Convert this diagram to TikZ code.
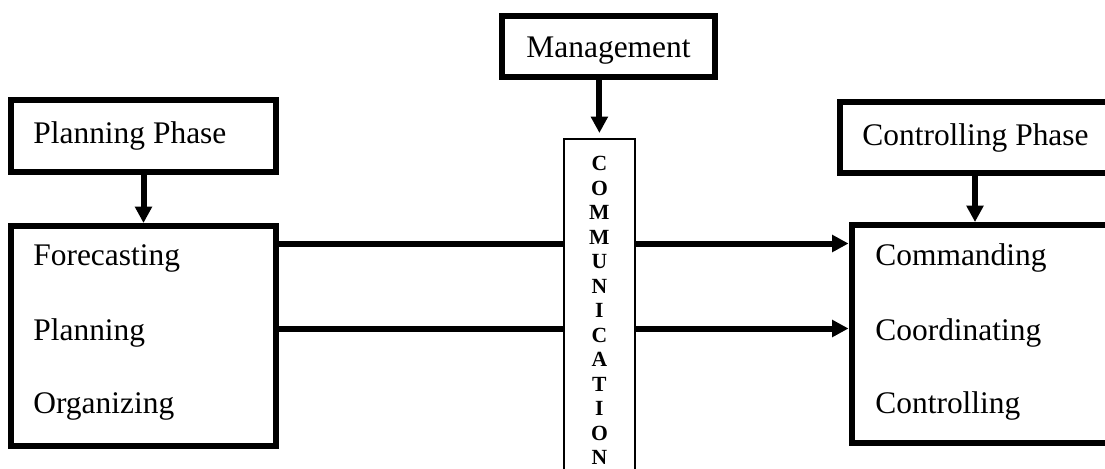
\documentclass[tikz,border=0pt]{standalone}
\usepackage{fontspec}
\setmainfont{Liberation Serif}
\usetikzlibrary{arrows.meta}

\begin{document}
\begin{tikzpicture}[x=0.02cm, y=0.02cm,
        blockbox/.style={draw, line width=0.12cm, inner sep=0pt, font=\fontsize{17.9}{21.5}\selectfont},
        itemtext/.style={anchor=base west, inner sep=0pt, font=\fontsize{17.9}{21.5}\selectfont},
        commbar/.style={draw, line width=0.04cm, minimum width=1.426cm, inner xsep=0pt, inner ysep=0.35cm,
            align=center, font=\fontsize{12.3}{13.95}\selectfont\bfseries},
        flow/.style={line width=0.12cm},
        flowarrow/.style={flow, -{Triangle[length=0.33cm, width=0.33cm]}}]

    % Page frame
    \useasboundingbox (0,0) rectangle (1105,468);
    \clip (0,0) rectangle (1105,468);

    % Management
    \node[blockbox, minimum width=4.26cm, minimum height=1.24cm, text height=0.42cm, text depth=0pt]
        (mgmt) at (608.5,421.5) {Management};

    % Communication bar
    \node[commbar, anchor=north] (comm) at (599.4,330)
        {C\\O\\M\\M\\U\\N\\I\\C\\A\\T\\I\\O\\N};

    % Planning phase
    %% Boxes
    \node[blockbox, minimum width=5.32cm, minimum height=1.45cm] (pphase) at (143.5,331.75) {};
    \node[blockbox, minimum width=5.32cm, minimum height=4.41cm] (pbox) at (143.5,131.75) {};

    %% Texts
    \node[itemtext] (pphasetxt) at (33,325) {Planning Phase};
    \node[itemtext] (forecast) at (33,203) {Forecasting};
    \node[itemtext] (planning) at (33,128) {Planning};
    \node[itemtext] (organize) at (33,55) {Organizing};

    % Controlling phase
    %% Boxes
    \node[blockbox, minimum width=5.4cm, minimum height=1.42cm] (cphase) at (975,330.5) {};
    \node[blockbox, minimum width=5.17cm, minimum height=4.37cm] (cbox) at (980.75,133.75) {};

    %% Texts
    \node[itemtext] (cphasetxt) at (862,323) {Controlling Phase};
    \node[itemtext] (command) at (875,203) {Commanding};
    \node[itemtext] (coord) at (875,128) {Coordinating};
    \node[itemtext] (control) at (875,55) {Controlling};

    % Downward arrows
    \draw[flowarrow] (mgmt.south -| comm.north) -- ([yshift=0.1cm]comm.north);
    \draw[flowarrow] (pphase.south) -- (pphase.south |- pbox.north);
    \draw[flowarrow] (cphase.south) -- (cphase.south |- cbox.north);

    % Links through communication
    \coordinate (upper) at (0,224.5);
    \coordinate (lower) at (0,139.5);
    \draw[flow] (pbox.east |- upper) -- (comm.west |- upper);
    \draw[flowarrow] (comm.east |- upper) -- (cbox.west |- upper);
    \draw[flow] (pbox.east |- lower) -- (comm.west |- lower);
    \draw[flowarrow] (comm.east |- lower) -- (cbox.west |- lower);
\end{tikzpicture}
\end{document}
